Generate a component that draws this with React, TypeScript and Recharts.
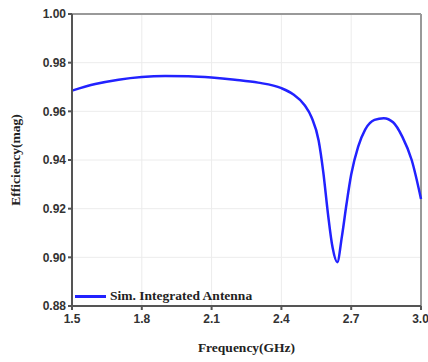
import React from 'react';
import {
  LineChart,
  Line,
  XAxis,
  YAxis,
  CartesianGrid,
  ReferenceLine,
  Label
} from 'recharts';

// frequency (GHz) and simulated efficiency
const freqs = [1.5, 1.6, 1.7, 1.8, 1.9, 2.0, 2.1, 2.2, 2.3, 2.4, 2.45, 2.5, 2.53, 2.56, 2.58, 2.6, 2.62, 2.64, 2.66, 2.68, 2.7, 2.73, 2.76, 2.8, 2.84, 2.88, 2.92, 2.96, 3.0];
const efficiency = [0.9685, 0.9712, 0.973, 0.9741, 0.9745, 0.9744, 0.9739, 0.973, 0.9718, 0.9695, 0.967, 0.9625, 0.9575, 0.948, 0.935, 0.918, 0.904, 0.898, 0.9085, 0.922, 0.934, 0.9455, 0.9525, 0.9565, 0.9572, 0.9555, 0.9495, 0.94, 0.924];

const xTicks = [1.5, 1.8, 2.1, 2.4, 2.7, 3.0];
const yTicks = [0.88, 0.9, 0.92, 0.94, 0.96, 0.98, 1.0];
const seriesName = 'Sim. Integrated Antenna';

const data = freqs.map((f, i) => ({ f, eff: efficiency[i] }));

const tickStyle = { fontFamily: 'Liberation Sans, Arial, sans-serif', fontWeight: 700, fontSize: 12, fill: '#333' };
const labelFont = '"Liberation Serif", "Times New Roman", serif';

export default function App() {
  return (
    <div style={{ position: 'absolute', left: 0, top: 0, width: 428, height: 362, background: '#fff' }}>
      <LineChart width={428} height={362} data={data} margin={{ top: 14, right: 7, bottom: 6, left: 22 }}>
        <CartesianGrid stroke="#ececec" strokeWidth={1} verticalValues={xTicks} horizontalValues={yTicks} />
        <XAxis
          dataKey="f"
          type="number"
          domain={[1.5, 3.0]}
          ticks={xTicks}
          tickFormatter={(v: number) => v.toFixed(1)}
          tick={tickStyle}
          tickSize={4}
          tickMargin={4}
          height={50}
          stroke="#555"
          strokeWidth={2}
        >
          <Label
            value="Frequency(GHz)"
            position="insideBottom"
            offset={4}
            style={{ fontFamily: labelFont, fontWeight: 700, fontSize: 13.5, fill: '#222' }}
          />
        </XAxis>
        <YAxis
          type="number"
          domain={[0.88, 1.0]}
          ticks={yTicks}
          tickFormatter={(v: number) => v.toFixed(2)}
          tick={tickStyle}
          tickSize={4}
          width={50}
          stroke="#555"
          strokeWidth={2}
          allowDataOverflow
        >
          <Label
            value="Efficiency(mag)"
            angle={-90}
            position="insideLeft"
            offset={-7}
            style={{ textAnchor: 'middle', fontFamily: labelFont, fontWeight: 700, fontSize: 13.5, fill: '#222' }}
          />
        </YAxis>
        <ReferenceLine y={1.0} stroke="#999" strokeWidth={2} />
        <ReferenceLine x={3.0} stroke="#999" strokeWidth={2} />
        <Line
          type="monotone"
          dataKey="eff"
          name={seriesName}
          stroke="#2222ff"
          strokeWidth={2.5}
          dot={false}
          isAnimationActive={false}
        />
      </LineChart>
      <div
        style={{
          position: 'absolute',
          left: 75,
          top: 288,
          display: 'flex',
          alignItems: 'center',
          fontFamily: labelFont,
          fontWeight: 700,
          fontSize: 13.5,
          color: '#222',
          whiteSpace: 'nowrap'
        }}
      >
        <span style={{ display: 'inline-block', width: 31, height: 3, background: '#2222ff', marginRight: 4 }} />
        {seriesName}
      </div>
    </div>
  );
}
